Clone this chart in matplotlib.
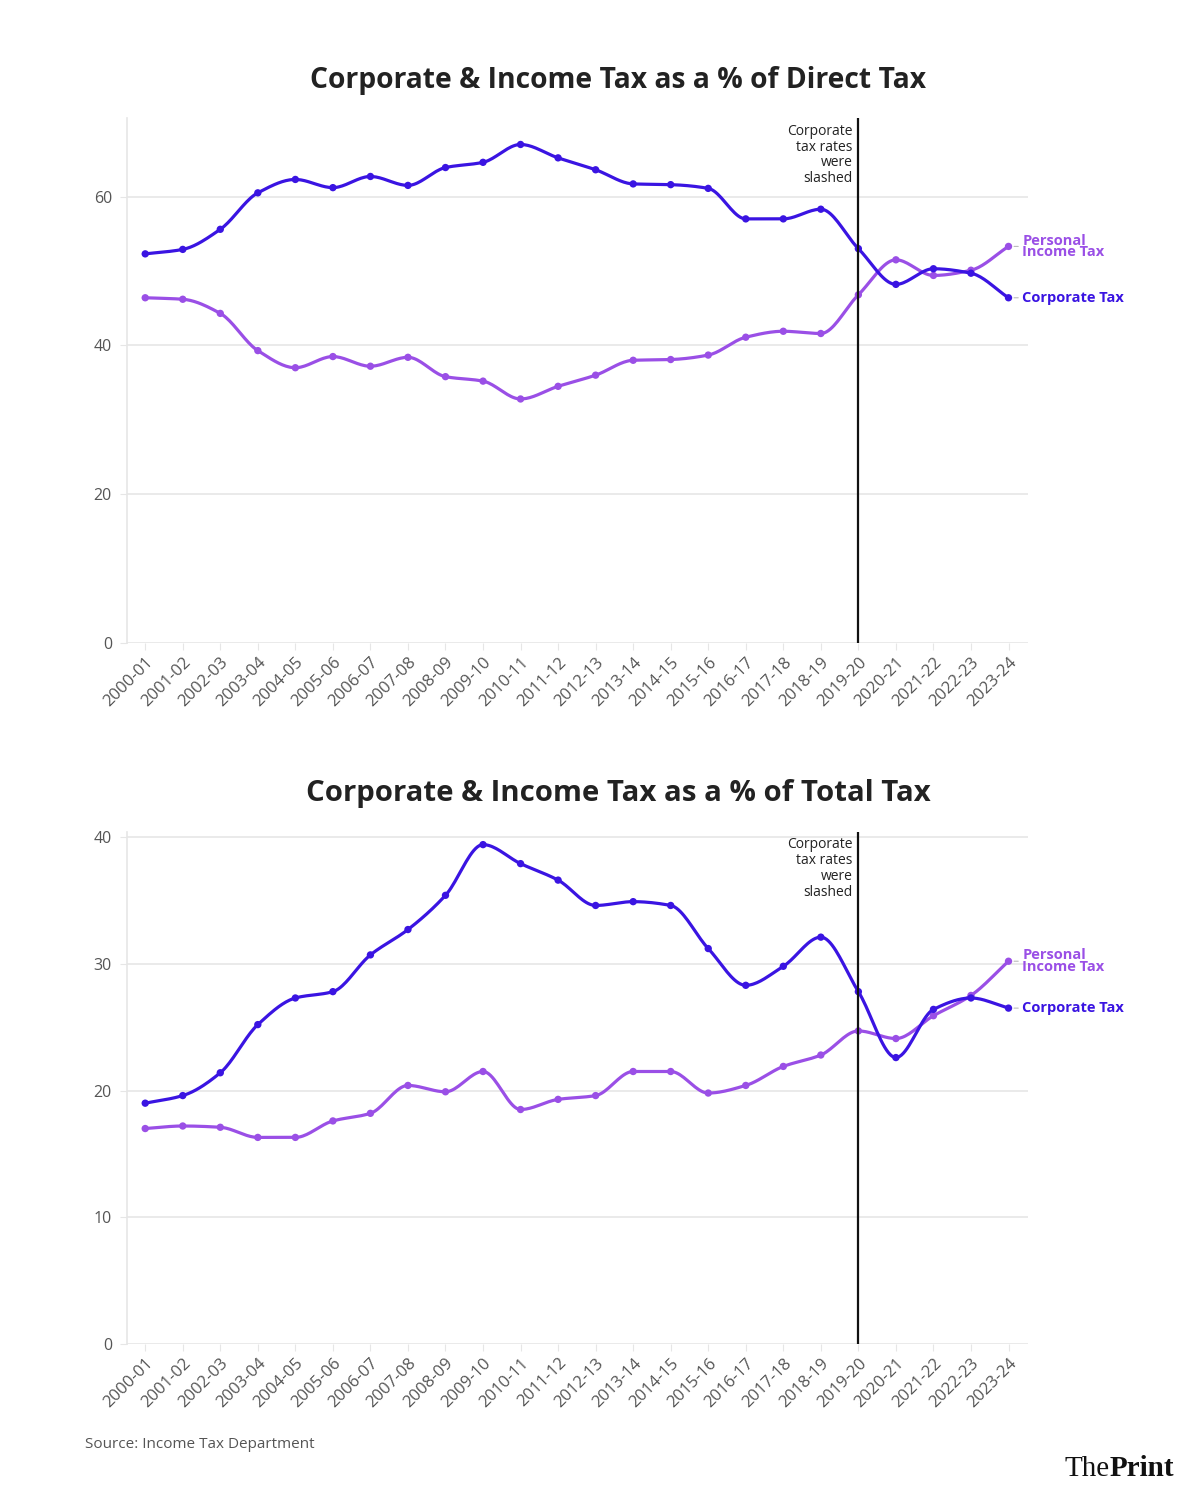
import numpy as np
import matplotlib
matplotlib.use('Agg')
import matplotlib.pyplot as plt

plt.rcParams['font.family'] = ['Open Sans', 'DejaVu Sans']

# data
years = ['2000-01', '2001-02', '2002-03', '2003-04', '2004-05', '2005-06', '2006-07',
         '2007-08', '2008-09', '2009-10', '2010-11', '2011-12', '2012-13', '2013-14',
         '2014-15', '2015-16', '2016-17', '2017-18', '2018-19', '2019-20', '2020-21',
         '2021-22', '2022-23', '2023-24']

corp_direct = [52.3, 52.9, 55.6, 60.5, 62.3, 61.2, 62.7, 61.5, 63.9, 64.6, 67.0, 65.2,
               63.6, 61.7, 61.6, 61.1, 57.0, 57.0, 58.3, 53.0, 48.2, 50.3, 49.7, 46.4]
pit_direct = [46.4, 46.2, 44.3, 39.3, 37.0, 38.5, 37.2, 38.4, 35.8, 35.2, 32.8, 34.5,
              36.0, 38.0, 38.1, 38.7, 41.1, 41.9, 41.6, 46.8, 51.5, 49.4, 50.1, 53.3]

corp_total = [19.0, 19.6, 21.4, 25.2, 27.3, 27.8, 30.7, 32.7, 35.4, 39.4, 37.9, 36.6,
              34.6, 34.9, 34.6, 31.2, 28.3, 29.8, 32.1, 27.8, 22.6, 26.4, 27.3, 26.5]
pit_total = [17.0, 17.2, 17.1, 16.3, 16.3, 17.6, 18.2, 20.4, 19.9, 21.5, 18.5, 19.3,
             19.6, 21.5, 21.5, 19.8, 20.4, 21.9, 22.8, 24.7, 24.1, 25.9, 27.5, 30.2]

cut_year = '2019-20'

CORP = '#3a14e2'
PIT = '#9a4fe6'
GRID = '#e6e6e6'
TXT = '#555555'


def monotone(y, n=20):
    # monotone cubic (Fritsch-Carlson) curve through the points, for drawing only
    y = np.asarray(y, float)
    x = np.arange(len(y), dtype=float)
    d = np.diff(y)
    m = np.zeros_like(y)
    m[0], m[-1] = d[0], d[-1]
    for i in range(1, len(y) - 1):
        if d[i - 1] * d[i] > 0:
            m[i] = 2 / (1 / d[i - 1] + 1 / d[i])
    xs, ys = [], []
    for i in range(len(y) - 1):
        t = np.linspace(0, 1, n, endpoint=False)
        h00 = 2 * t**3 - 3 * t**2 + 1
        h10 = t**3 - 2 * t**2 + t
        h01 = -2 * t**3 + 3 * t**2
        h11 = t**3 - t**2
        xs.append(x[i] + t)
        ys.append(h00 * y[i] + h10 * m[i] + h01 * y[i + 1] + h11 * m[i + 1])
    xs.append([x[-1]])
    ys.append([y[-1]])
    return np.concatenate(xs), np.concatenate(ys)


def panel(ax, corp, pit, yticks, ymax, title, tsize):
    x = np.arange(len(years))
    for vals, col, z in [(pit, PIT, 3), (corp, CORP, 4)]:
        sx, sy = monotone(vals)
        ax.plot(sx, sy, color=col, lw=2.3, zorder=z)
        ax.scatter(x, vals, s=28, color=col, zorder=z + 1, edgecolors='none')

    ax.set_xlim(-0.48, len(years) - 0.47)
    ax.set_ylim(0, ymax)
    ax.set_yticks(yticks)
    ax.set_xticks(x)
    ax.set_xticklabels(years, rotation=45, ha='right', rotation_mode='anchor')
    ax.grid(axis='y', color=GRID, lw=1.2)
    ax.set_axisbelow(True)
    for s in ['top', 'right', 'bottom']:
        ax.spines[s].set_visible(False)
    ax.spines['left'].set_color(GRID)
    ax.spines['left'].set_linewidth(1.2)
    ax.tick_params(axis='y', length=5, color=GRID, labelsize=11.5, labelcolor=TXT, pad=6)
    ax.tick_params(axis='x', length=5, color=GRID, labelsize=12, labelcolor=TXT, pad=3)

    xc = years.index(cut_year)
    ax.axvline(xc, ymin=0, ymax=1, color='#111111', lw=1.6, zorder=6)
    ax.text(xc - 0.15, ymax * 0.99, 'Corporate\ntax rates\nwere\nslashed', ha='right', va='top',
            fontsize=10, color='#222222', linespacing=1.08)

    last = len(years) - 1
    for vals, col, lab in [(pit, PIT, 'Personal\nIncome Tax'), (corp, CORP, 'Corporate Tax')]:
        ax.annotate(lab, xy=(last, vals[-1]), xytext=(10, 0), textcoords='offset points',
                    ha='left', va='center', color=col, fontsize=10.5, fontweight='bold',
                    linespacing=0.8, annotation_clip=False,
                    arrowprops=dict(arrowstyle='-', color='#bbbbbb', lw=0.8,
                                    shrinkA=1, shrinkB=4))

    ax.set_title(title, fontsize=tsize, fontweight='bold', color='#222222', pad=22, x=0.545)


fig = plt.figure(figsize=(12, 14.99), dpi=100)
ax1 = fig.add_axes([0.106, 0.571, 0.751, 0.350])
ax2 = fig.add_axes([0.106, 0.1034, 0.751, 0.3416])

panel(ax1, corp_direct, pit_direct, [0, 20, 40, 60], 70.5,
      'Corporate & Income Tax as a % of Direct Tax', 20.3)
panel(ax2, corp_total, pit_total, [0, 10, 20, 30, 40], 40.4,
      'Corporate & Income Tax as a % of Total Tax', 21.2)

fig.text(0.071, 0.0365, 'Source: Income Tax Department', fontsize=11, color=TXT, va='center')
fig.text(0.887, 0.0155, 'The', fontsize=21, family=['Liberation Serif', 'DejaVu Serif'],
         color='#111111', va='baseline')
fig.text(0.9245, 0.0155, 'Print', fontsize=21, family=['Liberation Serif', 'DejaVu Serif'],
         fontweight='bold', color='#111111', va='baseline')

fig.savefig('out.png', dpi=100, facecolor='white')
